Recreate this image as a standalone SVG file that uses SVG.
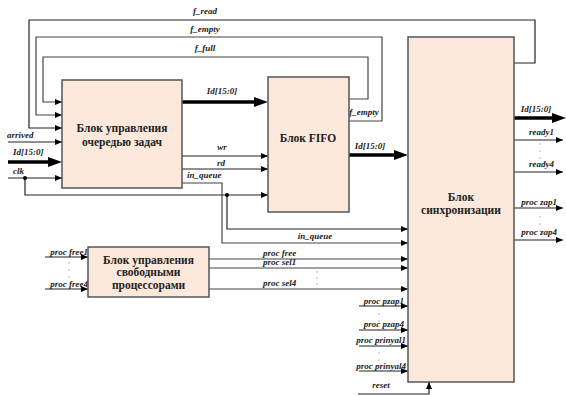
<svg xmlns="http://www.w3.org/2000/svg" width="566" height="396" viewBox="0 0 566 396">
<style>
.blk{fill:#fce9dc;stroke:#555;stroke-width:1.5}
.bt{font-family:"Liberation Serif","Times New Roman",serif;font-weight:bold;font-size:11.5px;fill:#222;text-anchor:middle}
.lb{font-family:"Liberation Serif","Times New Roman",serif;font-weight:bold;font-style:italic;font-size:9px;fill:#222}
.c{fill:none;stroke:#222;stroke-width:1.2}
.g{fill:none;stroke:#444;stroke-width:1.2}
.th{fill:none;stroke:#000;stroke-width:3.5}
.dot{fill:#999}
</style>
<defs>
<marker id="a" markerUnits="userSpaceOnUse" markerWidth="7" markerHeight="6" refX="7" refY="3" orient="auto"><path d="M0,0 L7,3 L0,6 z" fill="#000"/></marker>
<marker id="A" markerUnits="userSpaceOnUse" markerWidth="14" markerHeight="10" refX="0" refY="5" orient="auto"><path d="M0,0 L14,5 L0,10 z" fill="#000"/></marker>
</defs>
<rect width="566" height="396" fill="#fff"/>
<g id="connectors">
<path class="c" d="M514,63 H535 V20 H29 V128 H62" marker-end="url(#a)"/>
<path class="g" d="M349,121 H382 V37 H36 V115 H62" marker-end="url(#a)"/>
<path class="g" d="M349,99 H368 V57 H43 V102 H62" marker-end="url(#a)"/>
<path class="c" d="M8,142 H62" marker-end="url(#a)"/>
<path class="th" d="M8,162 H48" marker-end="url(#A)"/>
<path class="c" d="M8,178 H62" marker-end="url(#a)"/>
<path class="c" d="M25,178 V195 H268" marker-end="url(#a)"/>
<path class="c" d="M227,195 V229 H408" marker-end="url(#a)"/>
<circle cx="25" cy="178" r="2" fill="#000"/>
<circle cx="227" cy="195" r="2" fill="#000"/>
<path class="th" d="M182,102 H254" marker-end="url(#A)"/>
<path class="c" d="M182,156 H268" marker-end="url(#a)"/>
<path class="c" d="M182,169 H268" marker-end="url(#a)"/>
<path class="g" d="M182,183 H222 V243 H408" marker-end="url(#a)"/>
<path class="th" d="M349,155 H394" marker-end="url(#A)"/>
<path class="th" d="M514,118 H552" marker-end="url(#A)"/>
<path class="c" d="M514,140 H563" marker-end="url(#a)"/>
<path class="c" d="M514,172 H563" marker-end="url(#a)"/>
<path class="c" d="M514,208 H563" marker-end="url(#a)"/>
<path class="c" d="M514,240 H563" marker-end="url(#a)"/>
<path class="c" d="M45,257 H88" marker-end="url(#a)"/>
<path class="c" d="M45,289 H88" marker-end="url(#a)"/>
<path class="g" d="M209,259 H408" marker-end="url(#a)"/>
<path class="g" d="M209,268 H408" marker-end="url(#a)"/>
<path class="g" d="M209,289 H408" marker-end="url(#a)"/>
<path class="c" d="M359,306 H408" marker-end="url(#a)"/>
<path class="c" d="M359,330 H408" marker-end="url(#a)"/>
<path class="c" d="M359,346 H408" marker-end="url(#a)"/>
<path class="c" d="M359,371 H408" marker-end="url(#a)"/>
<path class="c" d="M358,394 H429 V382" marker-end="url(#a)"/>
</g>
<g id="labels">
<text class="lb" x="205" y="14" text-anchor="middle">f_read</text>
<text class="lb" x="205" y="32" text-anchor="middle">f_empty</text>
<text class="lb" x="205" y="51" text-anchor="middle">f_full</text>
<text class="lb" x="222" y="94" text-anchor="middle">Id[15:0]</text>
<text class="lb" x="222" y="150" text-anchor="middle">wr</text>
<text class="lb" x="221" y="166" text-anchor="middle">rd</text>
<text class="lb" x="187" y="178">in_queue</text>
<text class="lb" x="7" y="138">arrived</text>
<text class="lb" x="13" y="155">Id[15:0]</text>
<text class="lb" x="13" y="174">clk</text>
<text class="lb" x="364" y="115" text-anchor="middle">f_empty</text>
<text class="lb" x="370" y="149" text-anchor="middle">Id[15:0]</text>
<text class="lb" x="315" y="239" text-anchor="middle">in_queue</text>
<text class="lb" x="263" y="256">proc free</text>
<text class="lb" x="263" y="265">proc sel1</text>
<text class="lb" x="263" y="286">proc sel4</text>
<text class="lb" x="88" y="255" text-anchor="end">proc free1</text>
<text class="lb" x="88" y="287" text-anchor="end">proc free4</text>
<text class="lb" x="404" y="304" text-anchor="end">proc pzap1</text>
<text class="lb" x="404" y="327" text-anchor="end">proc pzap4</text>
<text class="lb" x="406" y="343" text-anchor="end">proc prinyal1</text>
<text class="lb" x="406" y="369" text-anchor="end">proc prinyal4</text>
<text class="lb" x="381" y="388" text-anchor="middle">reset</text>
<text class="lb" x="536" y="112" text-anchor="middle">Id[15:0]</text>
<text class="lb" x="554" y="135" text-anchor="end">ready1</text>
<text class="lb" x="554" y="167" text-anchor="end">ready4</text>
<text class="lb" x="557" y="205" text-anchor="end">proc zap1</text>
<text class="lb" x="557" y="235" text-anchor="end">proc zap4</text>
<circle class="dot" cx="540" cy="144" r="0.7"/><circle class="dot" cx="540" cy="151" r="0.7"/><circle class="dot" cx="540" cy="158" r="0.7"/>
<circle class="dot" cx="540" cy="217" r="0.7"/><circle class="dot" cx="540" cy="224" r="0.7"/><circle class="dot" cx="540" cy="231" r="0.7"/>
<circle class="dot" cx="69" cy="263" r="0.7"/><circle class="dot" cx="69" cy="270" r="0.7"/><circle class="dot" cx="69" cy="277" r="0.7"/>
<circle class="dot" cx="317" cy="272" r="0.7"/><circle class="dot" cx="317" cy="278" r="0.7"/><circle class="dot" cx="317" cy="284" r="0.7"/>
<circle class="dot" cx="379" cy="314" r="0.7"/><circle class="dot" cx="379" cy="321" r="0.7"/>
<circle class="dot" cx="379" cy="353" r="0.7"/><circle class="dot" cx="379" cy="360" r="0.7"/>
</g>
<g id="queue">
<rect class="blk" x="62" y="80" width="120" height="108"/>
<text class="bt" x="122" y="132">Блок управления</text>
<text class="bt" x="122" y="146">очередью задач</text>
</g>
<g id="fifo">
<rect class="blk" x="268" y="77" width="81" height="135"/>
<text class="bt" x="308" y="142">Блок FIFO</text>
</g>
<g id="sync">
<rect class="blk" x="408" y="37" width="106" height="345"/>
<text class="bt" x="461" y="201">Блок</text>
<text class="bt" x="461" y="214">синхронизации</text>
</g>
<g id="free">
<rect class="blk" x="88" y="247" width="121" height="50"/>
<text class="bt" x="148.5" y="264">Блок управления</text>
<text class="bt" x="148.5" y="276">свободными</text>
<text class="bt" x="148.5" y="289">процессорами</text>
</g>
</svg>
